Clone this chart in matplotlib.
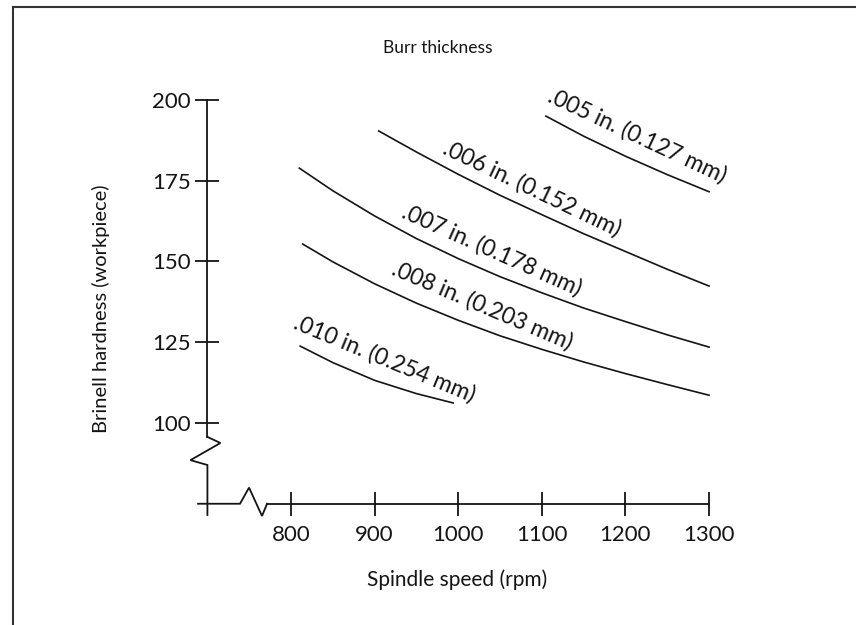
import numpy as np
import matplotlib.pyplot as plt
from matplotlib.lines import Line2D

plt.rcParams['font.family'] = ['Lato', 'DejaVu Sans']

# burr thickness curves: spindle speed (rpm) vs Brinell hardness
x005 = [1105, 1150, 1200, 1250, 1300]
y005 = [195.0, 188.8, 182.6, 176.9, 171.6]

x006 = [905, 950, 1000, 1050, 1100, 1150, 1200, 1250, 1300]
y006 = [190.4, 183.9, 177.0, 170.5, 164.5, 158.6, 153.1, 147.6, 142.4]

x007 = [810, 850, 900, 950, 1000, 1050, 1100, 1150, 1200, 1250, 1300]
y007 = [178.9, 171.9, 164.1, 157.1, 150.9, 145.3, 140.3, 135.6, 131.4, 127.3, 123.5]

x008 = [814, 850, 900, 950, 1000, 1050, 1100, 1150, 1200, 1250, 1300]
y008 = [155.4, 149.9, 143.1, 137.1, 131.8, 127.0, 122.8, 118.9, 115.3, 111.9, 108.6]

x010 = [811, 850, 900, 950, 994]
y010 = [123.8, 118.7, 113.2, 109.1, 106.2]

labels = ['.005 in. (0.127 mm)', '.006 in. (0.152 mm)', '.007 in. (0.178 mm)',
          '.008 in. (0.203 mm)', '.010 in. (0.254 mm)']

xticks = [800, 900, 1000, 1100, 1200, 1300]
yticks = [100, 125, 150, 175, 200]

ink = '#141414'

fig = plt.figure(figsize=(8.56, 6.25), dpi=100)
ax = fig.add_axes([0, 0, 1, 1])
ax.set_xlim(451.9, 1475.8)
ax.set_ylim(37.46, 230.96)
ax.patch.set_visible(False)

for s in ['top', 'right']:
    ax.spines[s].set_visible(False)
ax.spines['left'].set_position(('data', 700))
ax.spines['bottom'].set_position(('data', 75))
ax.spines['left'].set_bounds(95.7, 200)
ax.spines['bottom'].set_bounds(771.3, 1300)
for s in ['left', 'bottom']:
    ax.spines[s].set_linewidth(1.3)
    ax.spines[s].set_color(ink)

ax.set_xticks(xticks)
ax.set_yticks(yticks)
ax.tick_params(direction='inout', length=17.3, width=1.3, color=ink,
               labelsize=16, labelcolor=ink)
ax.tick_params(axis='y', pad=3.5)
ax.tick_params(axis='x', pad=6.5)

# broken axis zigzags
ax.plot([700, 715.5, 679.7, 700, 700], [95.7, 93.8, 88.5, 87, 71.5],
        color=ink, lw=1.3, solid_joinstyle='miter')
ax.plot([688.8, 739, 749.8, 765.3, 771.3], [75, 75, 80, 71.2, 75],
        color=ink, lw=1.3, solid_joinstyle='miter')

for xs, ys in [(x005, y005), (x006, y006), (x007, y007), (x008, y008), (x010, y010)]:
    ax.plot(xs, ys, color=ink, lw=1.2, solid_joinstyle='round')

# label baseline midpoints just above each curve
label_pos = [(1210.3, 187.0, -25), (1085.0, 170.6, -25.5), (1036.8, 151.6, -24),
             (1026.1, 134.3, -23), (908.9, 118.0, -22.5)]
for lab, (lx, ly, rot) in zip(labels, label_pos):
    ax.text(lx, ly, lab, rotation=rot, rotation_mode='anchor', ha='center',
            va='baseline', fontsize=16.5, color=ink)

fig.text(438 / 856, 1 - 48 / 625, 'Burr thickness', ha='center', va='center',
         fontsize=12.5, color=ink)
fig.text(457 / 856, 1 - 580 / 625, 'Spindle speed (rpm)', ha='center', va='center',
         fontsize=15, color=ink)
fig.text(101 / 856, 1 - 309 / 625, 'Brinell hardness (workpiece)', ha='center',
         va='center', rotation=90, fontsize=14.5, color=ink)

# page frame (top and left edges)
fig.add_artist(Line2D([13 / 856, 1], [1 - 7 / 625, 1 - 7 / 625], color='#333333', lw=1.5))
fig.add_artist(Line2D([13 / 856, 13 / 856], [0, 1 - 7 / 625], color='#333333', lw=1.5))

fig.savefig('out.png', dpi=100)
